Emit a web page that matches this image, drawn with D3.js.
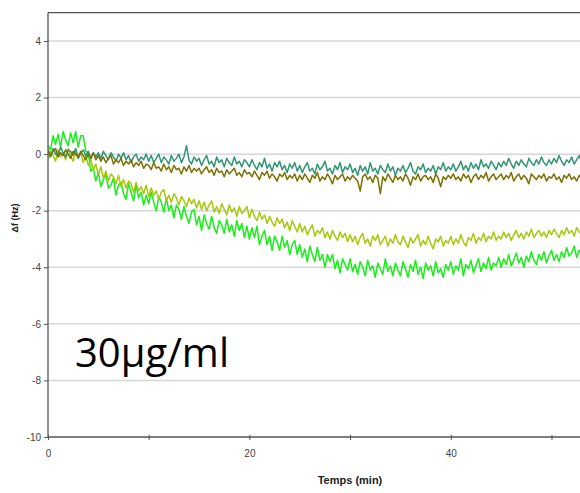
<!DOCTYPE html>
<html>
<head>
<meta charset="utf-8">
<script src="https://cdn.jsdelivr.net/npm/d3@7/dist/d3.min.js"></script>
<style>
  html, body { margin: 0; padding: 0; background: #fff; }
  svg { display: block; }
  .tick text { font-family: "Liberation Sans Narrow", "Arial Narrow", "Liberation Sans", Arial, sans-serif; font-size: 10px; fill: #444; }
</style>
</head>
<body>
<svg id="chart" width="580" height="493"></svg>
<script>
// ---- data (Δf in Hz, sampled every 0.25 min from t = 0) ----
const sampleStep = 0.25;
const xTicks = [0, 10, 20, 30, 40, 50];
const xTickLabels = ["0", "", "20", "", "40", ""];
const yTicks = [-10, -8, -6, -4, -2, 0, 2, 4];
const yTickLabels = ["-10", "-8", "-6", "-4", "-2", "0", "2", "4"];
const seriesNames = ["green", "yellowgreen", "teal", "olive"];

const greenValues = [
  0.30, 0.15, 0.65, 0.35, 0.70, 0.25, 0.80, 0.50, 0.30, 0.75, 0.40, 0.80, 0.25, 0.65, 0.65, 0.10, 0.05, -0.60, -0.50, -0.95,
  -0.65, -1.15, -0.90, -0.70, -1.20, -1.10, -0.85, -1.45, -1.10, -1.00, -1.40, -1.60, -1.05, -1.35, -1.65, -1.10, -1.55, -1.35, -1.80, -1.45,
  -1.75, -1.35, -1.70, -2.00, -1.50, -1.70, -2.05, -1.55, -2.00, -1.80, -2.25, -1.80, -1.95, -2.30, -1.85, -2.20, -2.45, -2.05, -1.95, -2.50,
  -2.20, -2.70, -2.15, -2.45, -2.65, -2.20, -2.60, -2.80, -2.35, -2.50, -2.80, -2.30, -2.75, -2.50, -2.90, -2.35, -2.70, -2.45, -2.95, -2.55,
  -3.00, -2.60, -2.95, -2.55, -3.20, -2.90, -2.70, -3.20, -2.90, -3.40, -2.90, -3.10, -3.40, -2.90, -3.30, -3.05, -3.55, -3.20, -3.05, -3.55,
  -3.20, -3.65, -3.35, -3.80, -3.25, -3.55, -3.80, -3.30, -3.75, -3.55, -4.00, -3.55, -3.80, -3.55, -4.05, -3.75, -4.20, -3.70, -3.90, -4.10,
  -3.70, -4.15, -3.90, -4.25, -3.80, -4.00, -4.30, -3.75, -4.10, -3.95, -4.35, -3.85, -4.05, -4.25, -3.70, -4.15, -3.95, -4.30, -3.85, -4.10,
  -4.30, -3.80, -4.05, -4.35, -3.90, -4.15, -3.75, -4.25, -4.00, -4.40, -3.85, -4.10, -3.95, -4.30, -3.80, -4.20, -4.05, -4.35, -3.90, -4.10,
  -3.80, -4.25, -3.95, -4.10, -3.70, -4.30, -3.90, -4.05, -3.75, -4.20, -3.95, -3.70, -4.15, -3.85, -4.05, -3.65, -4.10, -3.85, -3.95, -3.65,
  -4.00, -3.70, -3.90, -3.55, -3.95, -3.75, -3.50, -3.85, -3.65, -4.00, -3.60, -3.80, -3.45, -3.75, -3.90, -3.55, -3.75, -3.45, -3.85, -3.60,
  -3.40, -3.75, -3.55, -3.80, -3.45, -3.65, -3.30, -3.60, -3.50, -3.25, -3.65, -3.40, -3.55, -3.30
];

const yellowGreenValues = [
  -0.20, 0.10, -0.05, -0.25, 0.15, -0.10, 0.05, -0.20, 0.20, -0.05, -0.25, 0.10, -0.15, 0.05, -0.30, -0.05, -0.40, -0.20, -0.55, -0.35,
  -0.75, -0.45, -0.85, -0.60, -0.95, -0.70, -0.80, -1.05, -0.75, -1.15, -0.90, -1.20, -0.95, -1.05, -1.35, -1.00, -1.30, -1.15, -1.40, -1.10,
  -1.50, -1.20, -1.45, -1.30, -1.60, -1.35, -1.25, -1.65, -1.45, -1.70, -1.40, -1.55, -1.80, -1.50, -1.65, -1.85, -1.55, -1.75, -1.60, -1.90,
  -1.65, -1.95, -1.70, -2.00, -1.80, -1.65, -2.05, -1.85, -2.10, -1.75, -1.95, -2.15, -1.80, -2.05, -1.90, -2.20, -1.85, -2.10, -2.00, -1.85,
  -2.25, -1.95, -2.20, -2.35, -2.05, -2.30, -2.15, -2.45, -2.20, -2.40, -2.55, -2.25, -2.45, -2.30, -2.60, -2.40, -2.70, -2.35, -2.55, -2.75,
  -2.45, -2.75, -2.55, -2.85, -2.65, -2.50, -2.90, -2.70, -2.80, -2.60, -2.95, -2.75, -3.00, -2.70, -2.90, -3.05, -2.75, -2.95, -2.80, -3.10,
  -2.85, -3.10, -2.90, -3.20, -2.95, -2.80, -3.15, -3.00, -3.25, -2.90, -3.05, -2.85, -3.20, -3.05, -2.90, -3.25, -3.00, -3.15, -2.85, -3.10,
  -3.20, -2.90, -3.10, -3.30, -2.95, -3.15, -3.00, -2.85, -3.25, -3.05, -3.20, -2.90, -3.15, -3.35, -3.00, -3.10, -2.90, -3.25, -3.05, -3.15,
  -2.90, -3.20, -3.00, -3.15, -2.85, -3.10, -3.25, -2.95, -3.05, -2.80, -3.15, -2.95, -3.05, -2.80, -3.10, -2.90, -3.00, -2.75, -3.05, -2.90,
  -3.00, -2.75, -2.95, -2.80, -3.05, -2.85, -2.70, -2.95, -2.80, -3.00, -2.75, -2.90, -2.65, -2.95, -2.80, -2.70, -2.90, -2.75, -2.95, -2.70,
  -2.85, -2.65, -2.80, -2.95, -2.70, -2.85, -2.60, -2.80, -2.70, -2.90, -2.60, -2.75, -2.85, -2.65
];

const tealValues = [
  0.10, -0.10, 0.20, 0.00, -0.05, 0.25, 0.05, -0.10, 0.15, 0.10, -0.05, 0.20, -0.15, 0.05, 0.15, -0.05, 0.10, -0.15, 0.05, -0.10,
  0.05, -0.15, 0.10, -0.05, -0.20, 0.05, -0.10, -0.25, 0.00, -0.15, 0.05, -0.20, -0.05, -0.30, -0.10, 0.00, -0.25, -0.10, -0.20, 0.00,
  -0.25, -0.05, -0.30, -0.15, 0.00, -0.30, -0.10, -0.20, -0.35, -0.05, -0.25, -0.15, 0.00, -0.30, -0.10, 0.30, -0.20, -0.35, -0.10, -0.25,
  -0.15, -0.40, -0.20, -0.05, -0.35, -0.25, -0.45, -0.10, -0.30, -0.20, -0.45, -0.15, -0.30, -0.40, -0.10, -0.35, -0.25, -0.45, -0.20, -0.30,
  -0.45, -0.20, -0.40, -0.55, -0.30, -0.45, -0.15, -0.50, -0.35, -0.60, -0.30, -0.45, -0.25, -0.55, -0.40, -0.65, -0.35, -0.50, -0.30, -0.60,
  -0.40, -0.65, -0.45, -0.30, -0.60, -0.50, -0.70, -0.35, -0.55, -0.45, -0.25, -0.60, -0.50, -0.70, -0.40, -0.55, -0.30, -0.65, -0.45, -0.55,
  -0.35, -0.65, -0.50, -0.75, -0.40, -0.60, -0.45, -0.70, -0.30, -0.60, -0.50, -0.70, -0.40, -0.55, -0.65, -0.35, -0.60, -0.45, -0.75, -0.50,
  -0.60, -0.40, -0.65, -0.50, -0.30, -0.60, -0.70, -0.45, -0.55, -0.35, -0.65, -0.50, -0.60, -0.40, -0.70, -0.45, -0.55, -0.30, -0.60, -0.45,
  -0.55, -0.35, -0.60, -0.45, -0.25, -0.55, -0.40, -0.60, -0.30, -0.50, -0.35, -0.55, -0.20, -0.45, -0.35, -0.50, -0.25, -0.40, -0.55, -0.30,
  -0.45, -0.25, -0.40, -0.15, -0.35, -0.50, -0.25, -0.40, -0.20, -0.35, -0.45, -0.15, -0.30, -0.40, -0.20, -0.35, -0.10, -0.30, -0.40, -0.20,
  -0.35, -0.15, -0.30, -0.05, -0.25, -0.40, -0.20, -0.30, -0.10, -0.35, -0.20, -0.05, -0.30, -0.20
];

const oliveValues = [
  0.15, -0.05, 0.10, 0.20, -0.10, 0.05, -0.05, 0.15, 0.00, -0.15, 0.10, 0.00, -0.10, 0.10, -0.05, -0.20, 0.00, -0.15, 0.05, -0.20,
  -0.05, -0.25, -0.10, -0.30, -0.15, -0.05, -0.35, -0.20, -0.30, -0.15, -0.40, -0.25, -0.35, -0.20, -0.45, -0.30, -0.40, -0.25, -0.50, -0.35,
  -0.40, -0.55, -0.30, -0.50, -0.45, -0.60, -0.35, -0.55, -0.45, -0.65, -0.40, -0.55, -0.50, -0.70, -0.45, -0.60, -0.40, -0.65, -0.50, -0.60,
  -0.50, -0.70, -0.55, -0.45, -0.65, -0.55, -0.75, -0.50, -0.65, -0.60, -0.80, -0.55, -0.70, -0.60, -0.50, -0.75, -0.65, -0.80, -0.55, -0.70,
  -0.65, -0.80, -0.60, -0.75, -0.90, -0.65, -0.75, -0.60, -0.85, -0.70, -0.80, -0.95, -0.70, -0.80, -0.65, -0.90, -0.75, -0.85, -0.70, -0.95,
  -0.75, -0.90, -0.70, -0.85, -1.00, -0.75, -0.85, -0.65, -0.95, -0.80, -0.90, -0.70, -0.85, -1.05, -0.75, -0.90, -0.80, -0.70, -0.95, -0.80,
  -0.90, -0.75, -0.85, -0.95, -1.30, -0.80, -0.70, -0.90, -0.80, -1.00, -0.75, -0.85, -1.40, -0.80, -0.95, -0.70, -0.85, -1.00, -0.75, -0.90,
  -0.80, -0.95, -0.70, -0.85, -1.10, -0.80, -0.90, -0.70, -0.95, -0.80, -0.75, -0.90, -0.80, -1.00, -0.70, -0.85, -1.15, -0.80, -0.90, -0.75,
  -0.85, -0.70, -0.90, -0.80, -0.95, -0.70, -0.85, -0.75, -1.00, -0.80, -0.70, -0.90, -0.75, -0.85, -0.65, -0.95, -0.80, -0.70, -0.90, -0.80,
  -0.70, -0.90, -0.75, -0.85, -0.65, -0.95, -0.80, -0.70, -0.90, -0.75, -0.85, -1.05, -0.70, -0.80, -0.90, -0.75, -0.85, -0.70, -0.95, -0.80,
  -0.85, -0.70, -0.90, -0.80, -1.00, -0.75, -0.85, -0.70, -0.90, -0.80, -0.95, -0.75, -0.85, -1.05
];

const seriesValues = [greenValues, yellowGreenValues, tealValues, oliveValues];
const seriesColors = ["#18ee18", "#a6c80e", "#2f9672", "#7d7000"];

// ---- layout ----
const W = 580, H = 493;
const plotLeft = 48, plotTop = 12.7, plotBottom = 437;
const svg = d3.select("#chart");
svg.append("rect").attr("width", W).attr("height", H).attr("fill", "#fff");

const x = d3.scaleLinear().domain([0, 60]).range([plotLeft, plotLeft + 60 * 10.07]);
const y = d3.scaleLinear().domain([-10, 5]).range([plotBottom, plotTop]);

svg.append("defs").append("clipPath").attr("id", "plotclip")
  .append("rect").attr("x", plotLeft).attr("y", plotTop).attr("width", W - plotLeft).attr("height", plotBottom - plotTop);

// gridlines
svg.append("g").selectAll("line").data(yTicks.filter(v => v > -10)).join("line")
  .attr("x1", plotLeft).attr("x2", W)
  .attr("y1", d => y(d)).attr("y2", d => y(d))
  .attr("stroke", "#d6d6d6").attr("stroke-width", 1.5);

// series
const line = d3.line().x((d, i) => x(i * sampleStep)).y(d => y(d));
const plot = svg.append("g").attr("clip-path", "url(#plotclip)");
plot.selectAll("path").data(seriesValues).join("path")
  .attr("d", d => line(d))
  .attr("fill", "none")
  .attr("stroke", (d, i) => seriesColors[i])
  .attr("stroke-width", 1.5)
  .attr("stroke-linejoin", "round");

// top frame
svg.append("line").attr("x1", plotLeft).attr("x2", W).attr("y1", plotTop).attr("y2", plotTop)
  .attr("stroke", "#555").attr("stroke-width", 1.3);

// axes
const yAxis = d3.axisLeft(y).tickValues(yTicks).tickSize(4).tickPadding(3)
  .tickFormat((d, i) => yTickLabels[i]);
const gy = svg.append("g").attr("transform", `translate(${plotLeft},0)`).call(yAxis);
gy.select(".domain").attr("stroke", "#555").attr("stroke-width", 1.3).attr("d", `M0,${plotTop}V${plotBottom}`);
gy.selectAll(".tick line").attr("stroke", "#555");

const xAxis = d3.axisBottom(x).tickValues(xTicks).tickSize(3).tickPadding(10)
  .tickFormat((d, i) => xTickLabels[i]);
const gx = svg.append("g").attr("transform", `translate(0,${plotBottom})`).call(xAxis);
gx.select(".domain").attr("stroke", "#555").attr("stroke-width", 1.3).attr("d", `M${plotLeft},0H${W}`);
gx.selectAll(".tick line").attr("stroke", "#555").attr("y1", -2);

// labels
svg.append("text").attr("x", 350).attr("y", 484).attr("text-anchor", "middle")
  .attr("font-family", "'Liberation Sans Narrow', 'Arial Narrow', 'Liberation Sans', Arial, sans-serif")
  .attr("font-weight", "bold").attr("font-size", 11).attr("fill", "#222")
  .text("Temps (min)");

svg.append("text").attr("transform", "translate(18,218) rotate(-90)").attr("text-anchor", "middle")
  .attr("font-family", "'Liberation Sans Narrow', 'Arial Narrow', 'Liberation Sans', Arial, sans-serif")
  .attr("font-weight", "bold").attr("font-size", 9).attr("fill", "#222")
  .text("Δf (Hz)");

svg.append("text").attr("x", 75).attr("y", 367)
  .attr("font-family", "'Open Sans', 'Liberation Sans', sans-serif")
  .attr("font-size", 40).attr("fill", "#000")
  .text("30µg/ml");
</script>
</body>
</html>
